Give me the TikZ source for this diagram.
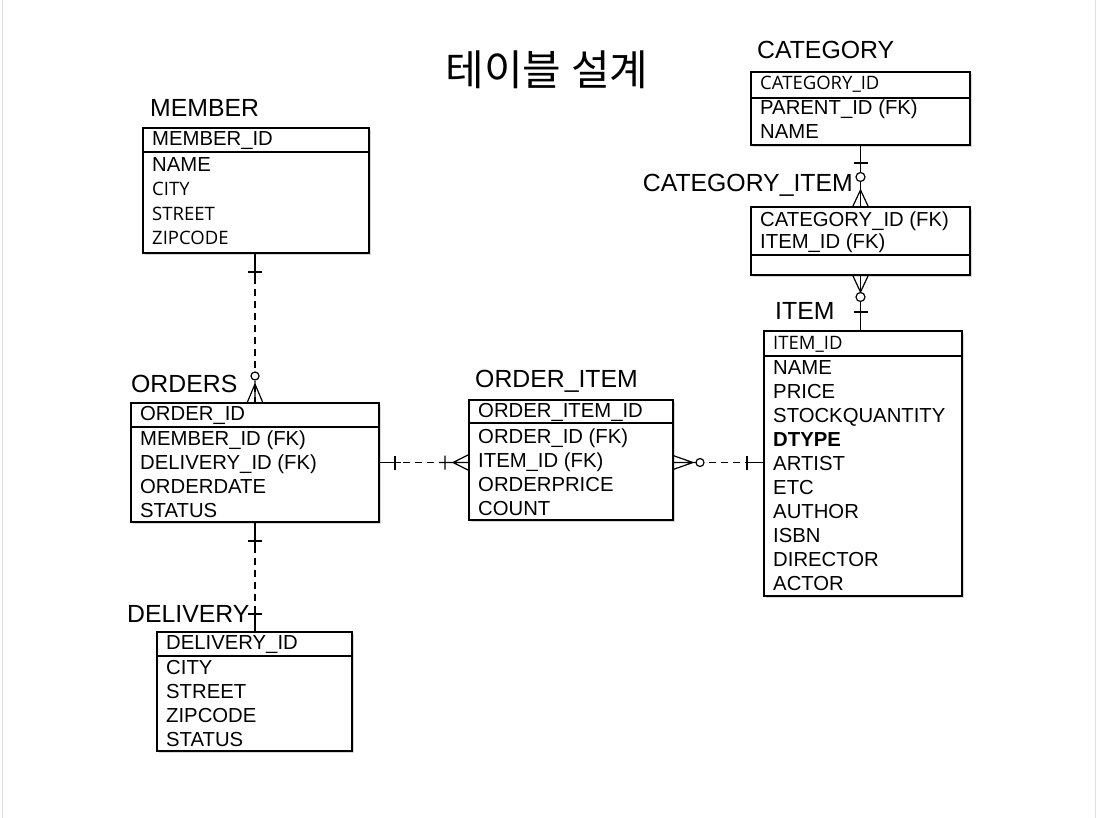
\documentclass[tikz,border=0pt]{standalone}
\usepackage{fontspec}
\setmainfont{Liberation Sans}
\newfontfamily\altfont{Open Sans}
\newfontfamily\kofont{Noto Sans CJK KR}
\usepackage{tikz}
\usetikzlibrary{positioning,shadows}

\begin{document}
\begin{tikzpicture}[x=1pt, y=-1pt,
	tbl/.style={draw, line width=1.7pt, fill=white, anchor=north west, inner sep=0pt, outer sep=0pt, drop shadow={shadow xshift=1.5pt, shadow yshift=-2pt, opacity=0.3}},
	keyline/.style={line width=1.4pt},
	tname/.style={anchor=base west, inner sep=0pt, font=\fontsize{24.8}{28}\selectfont},
	fld/.style={anchor=base west, inner sep=0pt, font=\fontsize{20.3}{24}\selectfont},
	altfld/.style={fld, font=\altfont\fontsize{18.5}{24}\selectfont},
	rel/.style={line width=1.2pt, dash pattern=on 7pt off 5pt},
	foot/.style={line width=1.2pt},
	ring/.style={line width=1.2pt, fill=white}]
\path[use as bounding box, fill=white] (0,0) rectangle (1097,818);
\draw[black!12, line width=1pt] (2,0) -- (2,818) (1095,0) -- (1095,818);
\node[anchor=base, inner sep=0pt, font=\kofont\fontsize{42}{46}\selectfont] (title) at (547,86) {테이블 설계};

\node[tbl, minimum width=226pt, minimum height=125pt] (member) at (143,128) {};
\draw[keyline] ([yshift=-24pt]member.north west) -- ([yshift=-24pt]member.north east);
\node[tname] (member-name) at (150,117) {MEMBER};
\node[fld] (member-id) at (152,146) {MEMBER\_ID};
\node[fld] (member-f1) at (152,172) {NAME};
\node[altfld] (member-f2) at (152,196) {CITY};
\node[altfld] (member-f3) at (152,221) {STREET};
\node[altfld] (member-f4) at (152,245) {ZIPCODE};

\node[tbl, minimum width=248pt, minimum height=119pt] (orders) at (131,403) {};
\draw[keyline] ([yshift=-24pt]orders.north west) -- ([yshift=-24pt]orders.north east);
\node[tname] (orders-name) at (131,392) {ORDERS};
\node[fld] (orders-id) at (140,420) {ORDER\_ID};
\node[fld] (orders-f1) at (140,445) {MEMBER\_ID (FK)};
\node[fld] (orders-f2) at (140,469) {DELIVERY\_ID (FK)};
\node[fld] (orders-f3) at (140,493) {ORDERDATE};
\node[fld] (orders-f4) at (140,517) {STATUS};

\node[tbl, minimum width=204pt, minimum height=120pt] (orderitem) at (469,400) {};
\draw[keyline] ([yshift=-23pt]orderitem.north west) -- ([yshift=-23pt]orderitem.north east);
\node[tname] (orderitem-name) at (475,387) {ORDER\_ITEM};
\node[fld] (orderitem-id) at (478,417) {ORDER\_ITEM\_ID};
\node[fld] (orderitem-f1) at (478,443) {ORDER\_ID (FK)};
\node[fld] (orderitem-f2) at (478,467) {ITEM\_ID (FK)};
\node[fld] (orderitem-f3) at (478,491) {ORDERPRICE};
\node[fld] (orderitem-f4) at (478,515) {COUNT};

\node[tbl, minimum width=198pt, minimum height=265pt] (item) at (764,331) {};
\draw[keyline] ([yshift=-25pt]item.north west) -- ([yshift=-25pt]item.north east);
\node[tname] (item-name) at (775,319) {ITEM};
\node[altfld] (item-id) at (773,349) {ITEM\_ID};
\node[fld] (item-f1) at (773,374) {NAME};
\node[fld] (item-f2) at (773,398) {PRICE};
\node[fld] (item-f3) at (773,422) {STOCKQUANTITY};
\node[fld] (item-f4) at (773,446) {\bfseries DTYPE};
\node[fld] (item-f5) at (773,470) {ARTIST};
\node[fld] (item-f6) at (773,494) {ETC};
\node[fld] (item-f7) at (773,518) {AUTHOR};
\node[fld] (item-f8) at (773,542) {ISBN};
\node[fld] (item-f9) at (773,566) {DIRECTOR};
\node[fld] (item-f10) at (773,590) {ACTOR};

\node[tbl, minimum width=219pt, minimum height=73pt] (category) at (751,72) {};
\draw[keyline] ([yshift=-26pt]category.north west) -- ([yshift=-26pt]category.north east);
\node[tname] (category-name) at (757,59) {CATEGORY};
\node[altfld] (category-id) at (760,90) {CATEGORY\_ID};
\node[fld] (category-f1) at (760,115) {PARENT\_ID (FK)};
\node[fld] (category-f2) at (760,139) {NAME};

\node[tbl, minimum width=219pt, minimum height=68pt] (categoryitem) at (751,207) {};
\draw[keyline] ([yshift=-48pt]categoryitem.north west) -- ([yshift=-48pt]categoryitem.north east);
\node[tname, anchor=base east] (categoryitem-name) at (853,192) {CATEGORY\_ITEM};
\node[fld] (categoryitem-id1) at (760,227) {CATEGORY\_ID (FK)};
\node[fld] (categoryitem-id2) at (760,249) {ITEM\_ID (FK)};

\node[tbl, minimum width=195pt, minimum height=119pt] (delivery) at (157,632) {};
\draw[keyline] ([yshift=-24pt]delivery.north west) -- ([yshift=-24pt]delivery.north east);
\node[tname] (delivery-name) at (127,622) {DELIVERY};
\node[fld] (delivery-id) at (166,649) {DELIVERY\_ID};
\node[fld] (delivery-f1) at (166,674) {CITY};
\node[fld] (delivery-f2) at (166,698) {STREET};
\node[fld] (delivery-f3) at (166,722) {ZIPCODE};
\node[fld] (delivery-f4) at (166,746) {STATUS};

\draw[rel] (orders.north |- member.south) -- (orders.north);
\draw[foot] (orders.north |- member.south) -- ++(0,25) ++(-7,-6) -- ++(14,0);
\draw[foot] (orders.north) -- ++(0,-22) (orders.north) ++(-8,0) -- ++(8,-19) -- ++(8,19);
\draw[ring] (orders.north) ++(0,-27) circle (4pt);

\draw[rel] (orders.east) -- (orders.east -| orderitem.west);
\draw[foot] (orders.east) -- ++(22,0) ++(-6,-7) -- ++(0,14);
\draw[foot] (orders.east -| orderitem.west) -- ++(-30,0) ++(6,-7) -- ++(0,14) (orders.east -| orderitem.west) ++(0,-8) -- ++(-16,8) -- ++(16,8);

\draw[rel] (orders.east -| orderitem.east) -- (orders.east -| item.west);
\draw[foot] (orders.east -| orderitem.east) ++(0,-7) -- ++(20,7) -- ++(-20,7) (orders.east -| orderitem.east) -- ++(23,0);
\draw[ring] (orders.east -| orderitem.east) ++(27,0) circle (4pt);
\draw[foot] (orders.east -| item.west) -- ++(-17,0) ++(0,-7) -- ++(0,14);

\draw[foot] (category.south) -- (categoryitem.north);
\draw[foot] (category.south) ++(-7,18) -- ++(14,0);
\draw[foot] (categoryitem.north) ++(-8,0) -- ++(8,-17) -- ++(8,17);
\draw[ring] (category.south) ++(0,32) circle (4.5pt);

\draw[foot] (categoryitem.south) -- (categoryitem.south |- item.north);
\draw[foot] (categoryitem.south) ++(-8,0) -- ++(8,17) -- ++(8,-17);
\draw[ring] (categoryitem.south) ++(0,22) circle (4.5pt);
\draw[foot] (categoryitem.south |- item.north) ++(-7,-19) -- ++(14,0);

\draw[rel] (orders.south) -- (orders.south |- delivery.north);
\draw[foot] (orders.south) -- ++(0,24) ++(-7,-5) -- ++(14,0);
\draw[foot] (orders.south |- delivery.north) -- ++(0,-24) ++(-7,6) -- ++(14,0);
\end{tikzpicture}
\end{document}
